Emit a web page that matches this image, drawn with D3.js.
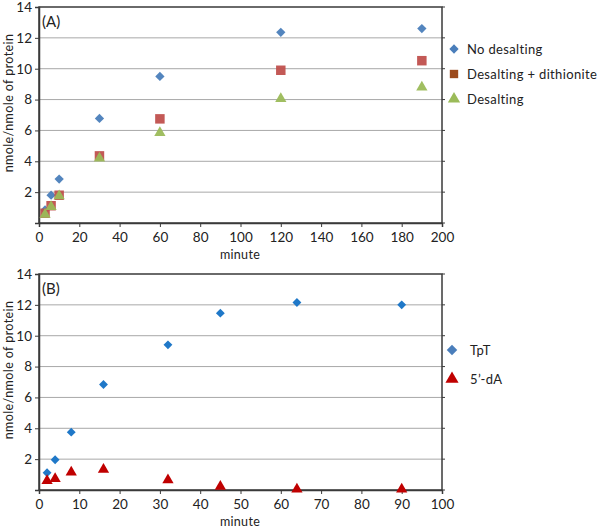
<!DOCTYPE html>
<html><head><meta charset="utf-8">
<script src="https://cdn.jsdelivr.net/npm/d3@7"></script>
<style>body{margin:0;background:#fff}svg{display:block}text{font-family:Lato,"Open Sans",sans-serif;fill:#222}</style>
</head><body>
<svg id="c" width="600" height="532"></svg>
<script>
// Panel A data
const timeA = [3, 6, 10, 30, 60, 120, 190];
const noDesalting = [0.85, 1.8, 2.85, 6.78, 9.5, 12.36, 12.6];
const desaltDithionite = [0.63, 1.12, 1.8, 4.35, 6.75, 9.9, 10.52];
const desalting = [0.55, 1.05, 1.75, 4.2, 5.85, 8.05, 8.8];
const ticksAX = [0, 20, 40, 60, 80, 100, 120, 140, 160, 180, 200];
// Panel B data
const timeB = [2, 4, 8, 16, 32, 45, 64, 90];
const tpt = [1.12, 1.96, 3.75, 6.84, 9.41, 11.46, 12.15, 12.0];
const dA5 = [0.6, 0.73, 1.15, 1.33, 0.65, 0.22, 0.05, 0.05];
const ticksBX = [0, 10, 20, 30, 40, 50, 60, 70, 80, 90, 100];
const ticksY = [2, 4, 6, 8, 10, 12, 14];
const ticksYlab = [0, 2, 4, 6, 8, 10, 12, 14];

const svg = d3.select("#c");
const diamond = d3.symbol().type(d3.symbolDiamond2);

function panel(opt){
  const x = d3.scaleLinear().domain(opt.xdom).range([39, 442]);
  const y = d3.scaleLinear().domain([0, 14]).range([opt.bottom, opt.top]);
  const g = svg.append("g");
  g.selectAll("line.grid").data(ticksY).join("line")
    .attr("x1", x.range()[0]).attr("x2", x.range()[1])
    .attr("y1", d => y(d)).attr("y2", d => y(d))
    .attr("stroke", d => d === 14 ? "none" : "#a8a8a8").attr("stroke-width", 1);
  g.append("rect").attr("x", 39).attr("y", opt.top).attr("width", 403).attr("height", opt.bottom - opt.top)
    .attr("fill", "none").attr("stroke", "#3a3a3a").attr("stroke-width", 1.5);
  const ax = g.append("g").attr("transform", `translate(0,${opt.bottom})`)
    .call(d3.axisBottom(x).tickValues(opt.xticks).tickSize(4).tickPadding(5));
  const ay = g.append("g").attr("transform", `translate(39,0)`)
    .call(d3.axisLeft(y).tickValues(ticksYlab).tickSize(4).tickPadding(3).tickFormat(d => d === 0 ? "" : d));
  [ax, ay].forEach(a => {
    a.select(".domain").attr("stroke", "#3a3a3a").attr("stroke-width", 1.5);
    a.selectAll(".tick line").attr("stroke", "#3a3a3a");
    a.selectAll("text").style("font-size", "13.5px").attr("fill", "#222");
  });
  g.selectAll("line.rt").data(ticksYlab).join("line")
    .attr("x1", 442).attr("x2", 445).attr("y1", d => y(d)).attr("y2", d => y(d))
    .attr("stroke", "#3a3a3a");
  g.append("text").attr("x", 240).attr("y", opt.bottom + 36).attr("text-anchor", "middle")
    .style("font-size", "12.5px").style("letter-spacing", "0.3px").text("minute");
  g.append("text").attr("transform", `translate(13,${(opt.top + opt.bottom) / 2 - 12}) rotate(-90)`)
    .attr("text-anchor", "middle").style("font-size", "12.5px").style("letter-spacing", "0.4px")
    .text("nmole/nmole of protein");
  g.append("text").attr("x", 42).attr("y", opt.top + 20).style("font-size", "15px").text(opt.label);
  return {x, y, g};
}

const A = panel({xdom: [0, 200], top: 7, bottom: 223, xticks: ticksAX, label: "(A)"});
const tri = d3.symbol().type(d3.symbolTriangle);
const seriesA = [
  {vals: noDesalting, kind: "diamond", color: "#4a7ebb"},
  {vals: desaltDithionite, kind: "square", color: "#c0504d"},
  {vals: desalting, kind: "triangle", color: "#9bbb59"}
];
function mark(sel, kind, size){
  if (kind === "diamond") return sel.attr("d", diamond.size(size)());
  if (kind === "square") return sel.attr("d", d3.symbol().type(d3.symbolSquare).size(size)());
  return sel.attr("d", tri.size(size)());
}
const sizeA = {diamond: 55, square: 90, triangle: 55};
seriesA.forEach(s => {
  A.g.selectAll(null).data(timeA.map((t, i) => [t, s.vals[i]])).join("path")
    .call(sel => mark(sel, s.kind, sizeA[s.kind]))
    .attr("transform", d => `translate(${A.x(d[0])},${A.y(d[1])})`)
    .attr("fill", s.color).attr("fill-opacity", 0.95);
});
const legA = [
  {name: "No desalting", kind: "diamond", color: "#4a7ebb", size: 55},
  {name: "Desalting + dithionite", kind: "square", color: "#9c4a1c", size: 70},
  {name: "Desalting", kind: "triangle", color: "#9bbb59", size: 65}
];
legA.forEach((l, i) => {
  const yy = 49 + i * 25;
  svg.append("path").call(sel => mark(sel, l.kind, l.size))
    .attr("transform", `translate(454,${yy})`).attr("fill", l.color);
  svg.append("text").attr("x", 467).attr("y", yy + 4.5).style("font-size", "13px")
    .style("letter-spacing", "0.35px").text(l.name);
});

const B = panel({xdom: [0, 100], top: 274, bottom: 490, xticks: ticksBX, label: "(B)"});
B.g.selectAll(null).data(timeB.map((t, i) => [t, tpt[i]])).join("path")
  .attr("d", diamond.size(50)())
  .attr("transform", d => `translate(${B.x(d[0])},${B.y(d[1])})`).attr("fill", "#1f78c8");
B.g.selectAll(null).data(timeB.map((t, i) => [t, dA5[i]])).join("path")
  .attr("d", tri.size(55)())
  .attr("transform", d => `translate(${B.x(d[0])},${B.y(d[1])})`).attr("fill", "#c00000");
const legB = [
  {name: "TpT", kind: "diamond", color: "#4a7ebb", size: 70},
  {name: "5\u2019-dA", kind: "triangle", color: "#c00000", size: 75}
];
legB.forEach((l, i) => {
  const yy = 350 + i * 29;
  svg.append("path").call(sel => mark(sel, l.kind, l.size))
    .attr("transform", `translate(452,${yy})`).attr("fill", l.color);
  svg.append("text").attr("x", 470).attr("y", yy + 4.5).style("font-size", "13px")
    .style("letter-spacing", "0.35px").text(l.name);
});
</script>
</body></html>
